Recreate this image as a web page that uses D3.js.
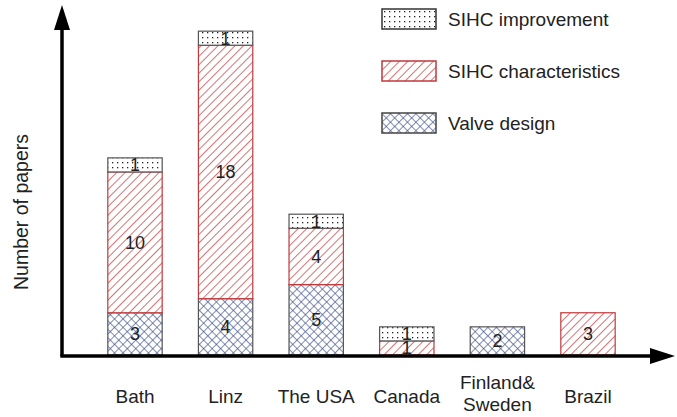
<!DOCTYPE html>
<html>
<head>
<meta charset="utf-8">
<script src="https://cdn.jsdelivr.net/npm/d3@7"></script>
<style>
  body { margin: 0; background: #fff; }
  text { font-family: "Liberation Sans", Arial, sans-serif; fill: #222; }
</style>
</head>
<body>
<div id="chart"></div>
<script>
// Data
const countries = ["Bath", "Linz", "The USA", "Canada", "Finland&\nSweden", "Brazil"];
const valveDesign = [3, 4, 5, 0, 2, 0];
const sihcCharacteristics = [10, 18, 4, 1, 0, 3];
const sihcImprovement = [1, 1, 1, 1, 0, 0];
const seriesNames = ["Valve design", "SIHC characteristics", "SIHC improvement"];

const width = 677, height = 417;
const axisX = 62, axisY = 356;

const svg = d3.select("#chart").append("svg")
  .attr("width", width)
  .attr("height", height);

// patterns
const defs = svg.append("defs");
const dots = defs.append("pattern")
  .attr("id", "dots").attr("patternUnits", "userSpaceOnUse")
  .attr("width", 5).attr("height", 5);
dots.append("rect").attr("width", 5).attr("height", 5).attr("fill", "#fff");
dots.append("rect").attr("x", 2).attr("y", 2).attr("width", 1.3).attr("height", 1.3).attr("fill", "#222");

const hatch = defs.append("pattern")
  .attr("id", "hatch").attr("patternUnits", "userSpaceOnUse")
  .attr("width", 6).attr("height", 6)
  .attr("patternTransform", "rotate(45)");
hatch.append("rect").attr("width", 6).attr("height", 6).attr("fill", "#fff");
hatch.append("line").attr("x1", 0).attr("y1", 0).attr("x2", 0).attr("y2", 6)
  .attr("stroke", "#c0393b").attr("stroke-width", 1.4);

const cross = defs.append("pattern")
  .attr("id", "cross").attr("patternUnits", "userSpaceOnUse")
  .attr("width", 6).attr("height", 6)
  .attr("patternTransform", "rotate(45)");
cross.append("rect").attr("width", 6).attr("height", 6).attr("fill", "#fff");
cross.append("line").attr("x1", 0).attr("y1", 0).attr("x2", 0).attr("y2", 6)
  .attr("stroke", "#3e4f86").attr("stroke-width", 1.3);
cross.append("line").attr("x1", 0).attr("y1", 0).attr("x2", 6).attr("y2", 0)
  .attr("stroke", "#3e4f86").attr("stroke-width", 1.3);

const fills = ["url(#cross)", "url(#hatch)", "url(#dots)"];
const strokes = ["#555", "#c0393b", "#555"];

// scales
const x = d3.scaleBand()
  .domain(countries)
  .range([89.7, 633.3])
  .paddingInner(0.4)
  .paddingOuter(0.2);

const y = d3.scaleLinear()
  .domain([0, 25])
  .range([axisY - 1, 3]);

// stack
const table = countries.map((c, i) => ({
  country: c,
  "Valve design": valveDesign[i],
  "SIHC characteristics": sihcCharacteristics[i],
  "SIHC improvement": sihcImprovement[i]
}));
const stacked = d3.stack().keys(seriesNames)(table);

const layers = svg.selectAll("g.layer")
  .data(stacked)
  .enter().append("g")
  .attr("class", "layer");

layers.each(function(layer, li) {
  const segs = layer.filter(d => d[1] - d[0] > 0);
  d3.select(this).selectAll("rect")
    .data(segs)
    .enter().append("rect")
    .attr("x", d => x(d.data.country))
    .attr("width", x.bandwidth())
    .attr("y", d => y(d[1]))
    .attr("height", d => y(d[0]) - y(d[1]))
    .attr("fill", fills[li])
    .attr("stroke", strokes[li])
    .attr("stroke-width", 1.2);
});
// value labels on top of all bars
layers.each(function(layer) {
  const segs = layer.filter(d => d[1] - d[0] > 0);
  svg.append("g").selectAll("text")
    .data(segs)
    .enter().append("text")
    .attr("x", d => x(d.data.country) + x.bandwidth() / 2)
    .attr("y", d => (y(d[0]) + y(d[1])) / 2)
    .attr("dy", "0.36em")
    .attr("text-anchor", "middle")
    .style("font-size", "18px")
    .text(d => d[1] - d[0]);
});

// axes with arrows
svg.append("line")
  .attr("x1", axisX).attr("y1", axisY)
  .attr("x2", axisX).attr("y2", 28)
  .attr("stroke", "#000").attr("stroke-width", 3.5);
svg.append("path")
  .attr("d", `M${axisX},5 L${axisX - 8},30 L${axisX + 8},30 Z`)
  .attr("fill", "#000");
svg.append("line")
  .attr("x1", axisX - 1.7).attr("y1", axisY)
  .attr("x2", 652).attr("y2", axisY)
  .attr("stroke", "#000").attr("stroke-width", 3.5);
svg.append("path")
  .attr("d", `M675,${axisY} L650,${axisY - 8} L650,${axisY + 8} Z`)
  .attr("fill", "#000");

// category labels
const xl = svg.selectAll("text.xlab")
  .data(countries)
  .enter().append("text")
  .attr("class", "xlab")
  .attr("text-anchor", "middle")
  .attr("x", d => x(d) + x.bandwidth() / 2)
  .attr("y", d => d.includes("\n") ? 389 : 403)
  .style("font-size", "19px");
xl.each(function(d) {
  const lines = d.split("\n");
  const t = d3.select(this);
  lines.forEach((l, i) => {
    t.append("tspan")
      .attr("x", t.attr("x"))
      .attr("dy", i === 0 ? 0 : 22)
      .text(l);
  });
});

// y label
svg.append("text")
  .attr("transform", "translate(28,212) rotate(-90)")
  .attr("text-anchor", "middle")
  .style("font-size", "19.5px")
  .text("Number of papers");

// legend
const legendItems = ["SIHC improvement", "SIHC characteristics", "Valve design"];
const legendFill = { "SIHC improvement": fills[2], "SIHC characteristics": fills[1], "Valve design": fills[0] };
const legendStroke = { "SIHC improvement": "#333", "SIHC characteristics": "#c0393b", "Valve design": "#444" };
const lg = svg.selectAll("g.legend")
  .data(legendItems)
  .enter().append("g")
  .attr("class", "legend")
  .attr("transform", (d, i) => `translate(382,${9 + i * 52})`);
lg.append("rect")
  .attr("width", 54).attr("height", 20)
  .attr("fill", d => legendFill[d])
  .attr("stroke", d => legendStroke[d])
  .attr("stroke-width", 1.5);
lg.append("text")
  .attr("x", 66).attr("y", 10)
  .attr("dy", "0.36em")
  .style("font-size", "19px")
  .text(d => d);
</script>
</body>
</html>
